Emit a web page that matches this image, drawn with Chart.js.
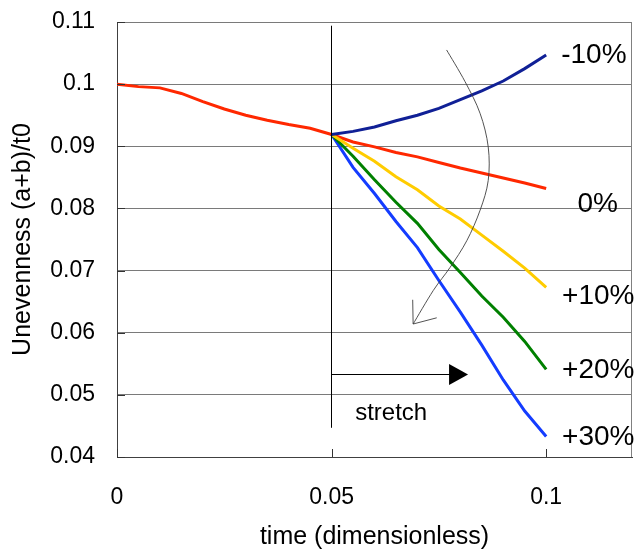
<!DOCTYPE html>
<html>
<head>
<meta charset="utf-8">
<script src="https://cdn.jsdelivr.net/npm/chart.js@4.4.1/dist/chart.umd.min.js"></script>
<style>
  html, body { margin: 0; padding: 0; background: #fff; }
  #wrap { width: 634px; height: 552px; }
</style>
</head>
<body>
<div id="wrap"><canvas id="chart" width="634" height="552"></canvas></div>
<script>
// Unevenness vs time, stretch applied at t = 0.05

// Time values
const timeAll = [0, 0.005, 0.01, 0.015, 0.02, 0.025, 0.03, 0.035, 0.04, 0.045, 0.05,
  0.055, 0.06, 0.065, 0.07, 0.075, 0.08, 0.085, 0.09, 0.095, 0.1];
const timeStretch = [0.05, 0.055, 0.06, 0.065, 0.07, 0.075, 0.08, 0.085, 0.09, 0.095, 0.1];

// Series values
const zeroValues = [0.1000, 0.0996, 0.0994, 0.0985, 0.0972, 0.0960, 0.0950, 0.0942, 0.0935, 0.0929, 0.0919,
  0.0907, 0.0899, 0.0890, 0.0883, 0.0874, 0.0865, 0.0857, 0.0849, 0.0841, 0.0832];
const minus10Values = [0.0919, 0.0924, 0.0931, 0.0941, 0.0950, 0.0961, 0.0975, 0.0989, 0.1005, 0.1025, 0.1047];
const plus10Values = [0.0919, 0.0897, 0.0876, 0.0851, 0.0830, 0.0804, 0.0783, 0.0757, 0.0731, 0.0704, 0.0673];
const plus20Values = [0.0919, 0.0884, 0.0846, 0.0810, 0.0776, 0.0734, 0.0697, 0.0659, 0.0625, 0.0586, 0.0541];
const plus30Values = [0.0919, 0.0866, 0.0824, 0.0779, 0.0737, 0.0684, 0.0633, 0.0580, 0.0524, 0.0474, 0.0433];

// Tick labels
const xTickValues = [0, 0.05, 0.1];
const yTickValues = [0.04, 0.05, 0.06, 0.07, 0.08, 0.09, 0.1, 0.11];

// Series labels at the right (text, x, y in data units)
const seriesLabels = ['-10%', '0%', '+10%', '+20%', '+30%'];
const seriesLabelX = [0.1035, 0.1073, 0.1037, 0.1037, 0.1037];
const seriesLabelY = [0.1046, 0.0806, 0.0659, 0.0540, 0.0431];

// Annotation geometry in data units
const markerLine = [[0.05, 0.1094], [0.05, 0.0447]];
const stretchArrow = [[0.05, 0.0534], [0.0818, 0.0534]];
const stretchText = { text: 'stretch', x: 0.0555, y: 0.0471 };
const curvePath = [[0.0768, 0.1055], [0.0811, 0.1004], [0.0846, 0.0953], [0.0865, 0.0899],
  [0.0865, 0.0845], [0.0846, 0.0797], [0.0815, 0.0748], [0.0776, 0.0705], [0.0737, 0.0668], [0.0690, 0.0614]];
const curveHead = [[0.0689, 0.0653], [0.0690, 0.0614], [0.0745, 0.0624]];

const FONT = "'Liberation Sans', Arial, sans-serif";

function pairs(xs, ys) {
  return xs.map((x, i) => ({ x: x, y: ys[i] }));
}

function lineSet(label, xs, ys, color) {
  return {
    label: label,
    data: pairs(xs, ys),
    borderColor: color,
    borderWidth: 3,
    pointRadius: 0,
    tension: 0,
    fill: false,
  };
}

function fmt(v) {
  return String(parseFloat(v.toFixed(3)));
}

// Draws frame, inward ticks, arrows and text labels
const annotations = {
  id: 'annotations',
  afterDatasetsDraw(chart) {
    const ctx = chart.ctx;
    const xs = chart.scales.x;
    const ys = chart.scales.y;
    const area = chart.chartArea;
    const px = v => xs.getPixelForValue(v);
    const py = v => ys.getPixelForValue(v);

    ctx.save();

    // right frame
    ctx.strokeStyle = '#808080';
    ctx.lineWidth = 1;
    ctx.beginPath();
    ctx.moveTo(Math.round(area.right) - 0.5, area.top);
    ctx.lineTo(Math.round(area.right) - 0.5, area.bottom);
    ctx.stroke();

    // inward tick marks
    ctx.strokeStyle = '#333';
    ctx.beginPath();
    yTickValues.forEach(v => {
      const y = Math.round(py(v)) + 0.5;
      ctx.moveTo(area.left, y);
      ctx.lineTo(area.left + 8, y);
    });
    xTickValues.forEach(v => {
      const x = Math.round(px(v)) + 0.5;
      ctx.moveTo(x, area.bottom);
      ctx.lineTo(x, area.bottom - 8);
    });
    ctx.stroke();

    // vertical marker at stretch start
    ctx.strokeStyle = '#000';
    ctx.beginPath();
    ctx.moveTo(Math.round(px(markerLine[0][0])) - 0.5, py(markerLine[0][1]));
    ctx.lineTo(Math.round(px(markerLine[1][0])) - 0.5, py(markerLine[1][1]));
    ctx.stroke();

    // stretch arrow
    const ay = Math.round(py(stretchArrow[0][1])) + 0.5;
    const tipX = px(stretchArrow[1][0]);
    ctx.beginPath();
    ctx.moveTo(px(stretchArrow[0][0]), ay);
    ctx.lineTo(tipX - 18, ay);
    ctx.stroke();
    ctx.fillStyle = '#000';
    ctx.beginPath();
    ctx.moveTo(tipX, ay);
    ctx.lineTo(tipX - 19, ay - 10.5);
    ctx.lineTo(tipX - 19, ay + 10.5);
    ctx.closePath();
    ctx.fill();

    // curved arrow (Catmull-Rom through the path points)
    const pts = curvePath.map(p => [px(p[0]), py(p[1])]);
    ctx.strokeStyle = '#404040';
    ctx.lineWidth = 0.9;
    ctx.beginPath();
    ctx.moveTo(pts[0][0], pts[0][1]);
    for (let i = 0; i < pts.length - 1; i++) {
      const p0 = pts[Math.max(i - 1, 0)];
      const p1 = pts[i];
      const p2 = pts[i + 1];
      const p3 = pts[Math.min(i + 2, pts.length - 1)];
      ctx.bezierCurveTo(
        p1[0] + (p2[0] - p0[0]) / 6, p1[1] + (p2[1] - p0[1]) / 6,
        p2[0] - (p3[0] - p1[0]) / 6, p2[1] - (p3[1] - p1[1]) / 6,
        p2[0], p2[1]);
    }
    ctx.stroke();
    ctx.beginPath();
    curveHead.forEach((p, i) => {
      if (i === 0) ctx.moveTo(px(p[0]), py(p[1]));
      else ctx.lineTo(px(p[0]), py(p[1]));
    });
    ctx.stroke();

    // texts
    ctx.fillStyle = '#000';
    ctx.textBaseline = 'middle';
    ctx.textAlign = 'left';
    ctx.font = '24px ' + FONT;
    ctx.fillText(stretchText.text, px(stretchText.x), py(stretchText.y));
    ctx.font = '28px ' + FONT;
    seriesLabels.forEach((t, i) => {
      ctx.fillText(t, px(seriesLabelX[i]), py(seriesLabelY[i]));
    });

    ctx.restore();
  }
};

new Chart(document.getElementById('chart'), {
  type: 'line',
  data: {
    datasets: [
      lineSet('-10%', timeStretch, minus10Values, 'rgb(16, 32, 150)'),
      lineSet('+10%', timeStretch, plus10Values, 'rgb(255, 204, 0)'),
      lineSet('+20%', timeStretch, plus20Values, 'rgb(0, 128, 0)'),
      lineSet('+30%', timeStretch, plus30Values, 'rgb(20, 60, 255)'),
      lineSet('0%', timeAll, zeroValues, 'rgb(255, 40, 0)'),
    ],
  },
  options: {
    responsive: false,
    animation: false,
    layout: { padding: { top: 22, right: 2, left: 0, bottom: 0 } },
    plugins: {
      legend: { display: false },
      tooltip: { enabled: false },
    },
    scales: {
      x: {
        type: 'linear',
        min: 0,
        max: 0.12,
        afterBuildTicks: scale => { scale.ticks = xTickValues.map(v => ({ value: v })); },
        afterFit: scale => {
          scale.height = 95;
          scale.paddingLeft = 0;
          scale.paddingRight = 0;
        },
        grid: { display: false },
        border: { color: '#404040', width: 1 },
        ticks: {
          color: '#000',
          padding: 19,
          maxRotation: 0,
          font: { family: FONT, size: 23 },
          callback: v => fmt(v),
        },
        title: {
          display: true,
          text: 'time (dimensionless)',
          color: '#000',
          font: { family: FONT, size: 25 },
          padding: { top: 0, bottom: 0 },
        },
      },
      y: {
        type: 'linear',
        min: 0.04,
        max: 0.11,
        afterBuildTicks: scale => { scale.ticks = yTickValues.map(v => ({ value: v })); },
        afterFit: scale => {
          scale.width = 117;
          scale.paddingTop = 0;
          scale.paddingBottom = 0;
        },
        grid: { color: '#7a7a7a', drawTicks: false },
        border: { color: '#404040', width: 1 },
        ticks: {
          color: '#000',
          padding: 22,
          font: { family: FONT, size: 23 },
          callback: v => fmt(v),
        },
        title: {
          display: true,
          text: 'Unevenness (a+b)/t0',
          color: '#000',
          font: { family: FONT, size: 25 },
          padding: { top: 8, bottom: 0 },
        },
      },
    },
  },
  plugins: [annotations],
});
</script>
</body>
</html>
